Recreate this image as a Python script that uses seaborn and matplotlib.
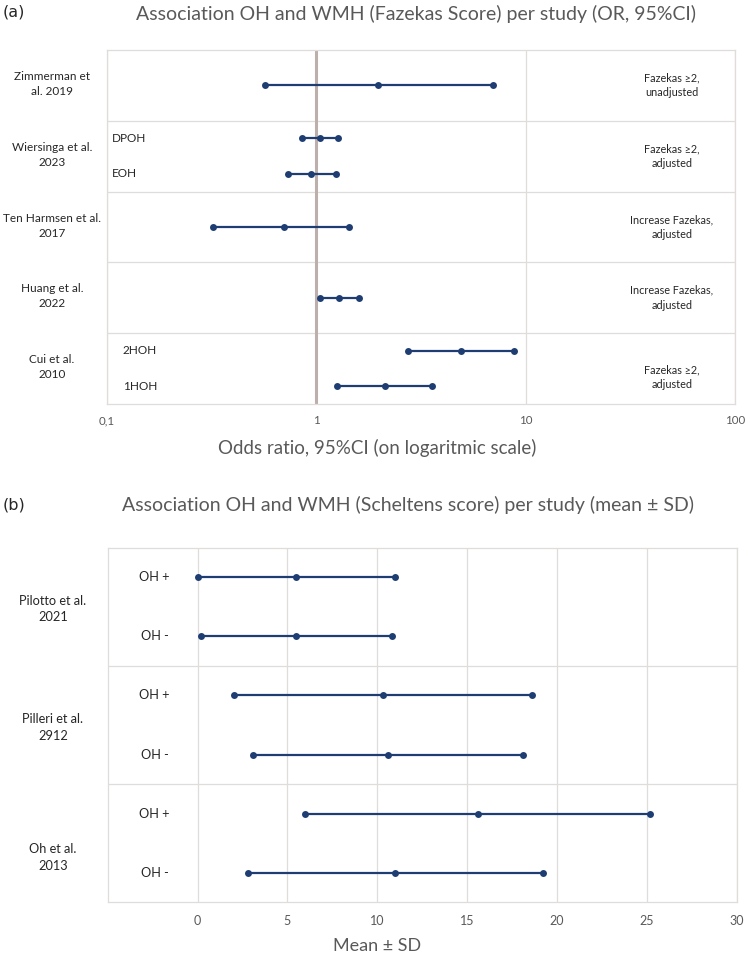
import pandas as pd
import seaborn as sns
import matplotlib.pyplot as plt
import matplotlib.transforms as mtransforms

# (a) odds ratios, 95% CI, per study / subgroup
a_studies = ['Zimmerman et\nal. 2019', 'Wiersinga et al.\n2023', 'Ten Harmsen et al.\n2017',
             'Huang et al.\n2022', 'Cui et al.\n2010']
a_notes = ['Fazekas ≥2,\nunadjusted', 'Fazekas ≥2,\nadjusted', 'Increase Fazekas,\nadjusted',
           'Increase Fazekas,\nadjusted', 'Fazekas ≥2,\nadjusted']
a_study = [0, 1, 1, 2, 3, 4, 4]
a_sub = ['', 'DPOH', 'EOH', '', '', '2HOH', '1HOH']
a_low = [0.57, 0.85, 0.73, 0.32, 1.04, 2.74, 1.26]
a_or = [1.98, 1.04, 0.94, 0.70, 1.29, 4.9, 2.12]
a_high = [6.97, 1.27, 1.24, 1.43, 1.59, 8.8, 3.57]

# (b) Scheltens score, mean +/- SD
b_studies = ['Pilotto et al.\n2021', 'Pilleri et al.\n2912', 'Oh et al.\n2013']
b_study = [0, 0, 1, 1, 2, 2]
b_sub = ['OH +', 'OH -', 'OH +', 'OH -', 'OH +', 'OH -']
b_low = [0.0, 0.17, 2.0, 3.07, 6.0, 2.8]
b_mean = [5.5, 5.5, 10.3, 10.6, 15.6, 11.0]
b_high = [11.0, 10.8, 18.6, 18.1, 25.2, 19.2]

navy = '#1d3d73'
grid_c = '#e0dcda'
grey_txt = '#595959'


# one band per study; a single row sits in the middle, two rows at 1/4 and 3/4
def row_positions(study):
    out = []
    for i, s in enumerate(study):
        if study.count(s) == 1:
            out.append(s + 0.5)
        else:
            out.append(s + 0.25 + 0.5 * (i - study.index(s)))
    return out


def long_df(study, low, mid, high):
    pos = row_positions(study)
    rows = []
    for i in range(len(study)):
        for v in (low[i], mid[i], high[i]):
            rows.append({'row': i, 'pos': pos[i], 'value': v})
    return pd.DataFrame(rows), pos


def style_axes(ax, size):
    ax.grid(True, color=grid_c, lw=0.9)
    ax.set_xlabel('')
    ax.set_ylabel('')
    ax.set_yticklabels([])
    ax.tick_params(length=0, labelsize=size, labelcolor=grey_txt, pad=8)
    for sp in ax.spines.values():
        sp.set_color(grid_c)
        sp.set_linewidth(0.9)


sns.set_style('white')
plt.rcParams['font.family'] = ['Lato', 'DejaVu Sans']
plt.rcParams['text.color'] = '#262626'

fig = plt.figure(figsize=(7.5, 9.57), dpi=100)
ax1 = fig.add_axes([0.1427, 0.5778, 0.8373, 0.370])
ax2 = fig.add_axes([0.1436, 0.0572, 0.8387, 0.3705])

# ---- panel (a)
dfa, pos_a = long_df(a_study, a_low, a_or, a_high)
ax1.axvline(1, color='#bdb0ac', lw=2.2, zorder=1)
sns.lineplot(data=dfa, x='value', y='pos', units='row', estimator=None, color=navy,
             lw=1.6, marker='o', markersize=5, markeredgewidth=0, legend=False, ax=ax1, zorder=3)
ax1.set_xscale('log')
ax1.set_xlim(0.1, 100)
ax1.set_ylim(5, 0)
ax1.set_xticks([0.1, 1, 10, 100])
ax1.set_xticklabels(['0,1', '1', '10', '100'])
ax1.minorticks_off()
ax1.set_yticks([1, 2, 3, 4])
style_axes(ax1, 8.3)

tr1 = mtransforms.blended_transform_factory(ax1.transAxes, ax1.transData)
for i, name in enumerate(a_studies):
    ax1.text(-0.088, i + 0.48, name, transform=tr1, ha='center', va='center', fontsize=8.5,
             linespacing=1.45)
    ax1.text(50, i + 0.5 + (0.12 if i == 4 else 0), a_notes[i], ha='center', va='center',
             fontsize=7.8, linespacing=1.45)
for i, lab in enumerate(a_sub):
    if lab:
        x0 = 0.008 if a_study[i] == 1 else 0.025
        ax1.text(x0, pos_a[i], lab, transform=tr1, ha='left', va='center', fontsize=8.5)

fig.text(0.004, 0.987, '(a)', fontsize=11.5, va='center', ha='left', family='DejaVu Sans')
fig.text(0.555, 0.985, 'Association OH and WMH (Fazekas Score) per study (OR, 95%CI)',
         ha='center', va='center', fontsize=14, color=grey_txt)
fig.text(0.503, 0.532, 'Odds ratio, 95%CI (on logaritmic scale)', ha='center', va='center',
         fontsize=13.5, color=grey_txt)

# ---- panel (b)
dfb, pos_b = long_df(b_study, b_low, b_mean, b_high)
sns.lineplot(data=dfb, x='value', y='pos', units='row', estimator=None, color=navy,
             lw=1.6, marker='o', markersize=5, markeredgewidth=0, legend=False, ax=ax2, zorder=3)
ax2.set_xlim(-5, 30)
ax2.set_ylim(3, 0)
ax2.set_xticks([0, 5, 10, 15, 20, 25, 30])
ax2.set_yticks([1, 2])
style_axes(ax2, 9)
ax2.tick_params(pad=9)

tr2 = mtransforms.blended_transform_factory(ax2.transAxes, ax2.transData)
for i, name in enumerate(b_studies):
    ax2.text(-0.087, i + 0.52 + (0.1 if i == 2 else 0), name, transform=tr2, ha='center',
             va='center', fontsize=9.2, linespacing=1.45)
for i, lab in enumerate(b_sub):
    ax2.text(-2.4, pos_b[i], lab, ha='center', va='center', fontsize=9.2)

fig.text(0.004, 0.4725, '(b)', fontsize=11.5, va='center', ha='left', family='DejaVu Sans')
fig.text(0.544, 0.4723, 'Association OH and WMH (Scheltens score) per study (mean ± SD)',
         ha='center', va='center', fontsize=14, color=grey_txt)
fig.text(0.503, 0.011, 'Mean ± SD', ha='center', va='center', fontsize=13, color=grey_txt)

fig.savefig('out.png', dpi=100, facecolor='white')
